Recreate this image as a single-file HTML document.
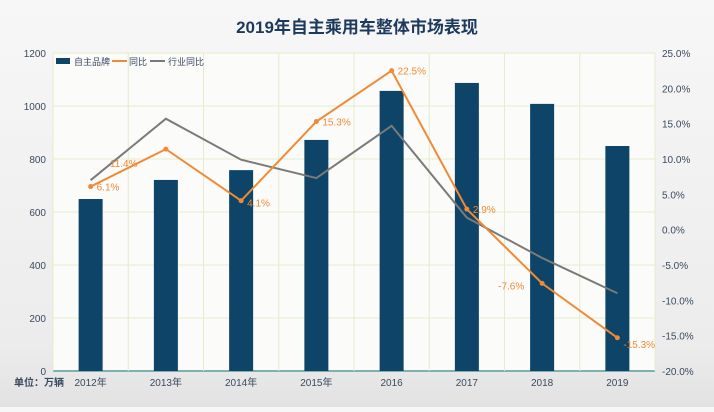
<!DOCTYPE html>
<html><head><meta charset="utf-8"><style>
body{margin:0;width:714px;height:407px;overflow:hidden;background:linear-gradient(#f7f7f7,#ececec 85%,#e2e2e2);font-family:"Liberation Sans","Noto Sans CJK SC",sans-serif;}
</style></head><body>
<svg id="c" width="714" height="407" xmlns="http://www.w3.org/2000/svg">
<rect x="53" y="53" width="602" height="318" fill="#fbfbfa"/>
<text x="357" y="33" text-anchor="middle" font-size="17" fill="#1d3a5c" font-weight="bold" font-family="Liberation Sans, Noto Sans CJK SC, sans-serif">2019年自主乘用车整体市场表现</text>
<g id="g"></g>
</svg>
<script>
const categories=["2012年","2013年","2014年","2015年","2016","2017","2018","2019"];
const sales=[649,721,758,872,1057,1087,1008,849];
const yoy=[6.1,11.4,4.1,15.3,22.5,2.9,-7.6,-15.3];
const industry=[7.0,15.7,9.9,7.3,14.7,1.7,-4.0,-9.0];
const leftTicks=[0,200,400,600,800,1000,1200];
const rightTicks=[25,20,15,10,5,0,-5,-10,-15,-20];
const NS="http://www.w3.org/2000/svg",g=document.getElementById('g');
const X0=53,X1=655,Y0=371,Y1=53,cw=(X1-X0)/categories.length;
const xc=i=>X0+cw*(i+0.5);
const yL=v=>Y0-(v/1200)*(Y0-Y1);
const yR=v=>Y0-((v+20)/45)*(Y0-Y1);
const labelDx=[6,-56,6,6,6,6,-44,6];
const labelDy=[4,18,6,4,4,4,6,10];
function el(t,a,txt){const e=document.createElementNS(NS,t);for(const k in a)e.setAttribute(k,a[k]);if(txt!=null)e.textContent=txt;g.appendChild(e);return e;}
leftTicks.forEach(v=>{
 const l=el('line',{x1:X0,x2:X1,y1:yL(v),y2:yL(v),stroke:v===0?'#7fb0b0':'#e4eccc','stroke-width':v===0?2:1});
 
 const t=el('text',{x:46,y:yL(v)+4,'text-anchor':'end','font-size':10,fill:'#3a4a60'},v);
 
});
for(let i=0;i<=categories.length;i++){
 const l=el('line',{x1:X0+cw*i,x2:X0+cw*i,y1:Y1,y2:Y0,stroke:'#e4eccc'});
 
}
rightTicks.forEach(v=>{
 const t=el('text',{x:662,y:yR(v)+4,'font-size':10,fill:'#3a4a60'},v.toFixed(1)+'%');
 
});
categories.forEach((c,i)=>{
 const h=Y0-yL(sales[i]);
 const b=el('rect',{x:xc(i)-12,y:yL(sales[i]),width:24,height:h,fill:'#0e4468'});
 
 const t=el('text',{x:xc(i),y:386,'text-anchor':'middle','font-size':10,fill:'#3a4a60'},c);
 
});
const gl=el('polyline',{points:industry.map((v,i)=>xc(i)+','+yR(v)).join(' '),fill:'none',stroke:'#7a7a7a','stroke-width':2});

const ol=el('polyline',{points:yoy.map((v,i)=>xc(i)+','+yR(v)).join(' '),fill:'none',stroke:'#f08a34','stroke-width':2});

yoy.forEach((v,i)=>{
 const p=el('circle',{cx:xc(i),cy:yR(v),r:2.5,fill:'#f08a34'});
 
 const t=el('text',{x:xc(i)+labelDx[i],y:yR(v)+labelDy[i],'font-size':10,fill:'#f08a34'},v.toFixed(1)+'%');
 
});
const u=el('text',{x:14,y:386,'font-size':10,fill:'#3a4a60','font-weight':'bold'},'单位：万辆');

const lr=el('rect',{x:56,y:58,width:14,height:6,fill:'#0e4468'});

const lt1=el('text',{x:74,y:65,'font-size':9,fill:'#3a4a60'},'自主品牌');

const ll=el('line',{x1:112,x2:127,y1:61,y2:61,stroke:'#f08a34','stroke-width':2});

const lt2=el('text',{x:129,y:65,'font-size':9,fill:'#3a4a60'},'同比');

const lg=el('line',{x1:150,x2:165,y1:61,y2:61,stroke:'#7a7a7a','stroke-width':2});

const lt3=el('text',{x:168,y:65,'font-size':9,fill:'#3a4a60'},'行业同比');

</script>
</body></html>
